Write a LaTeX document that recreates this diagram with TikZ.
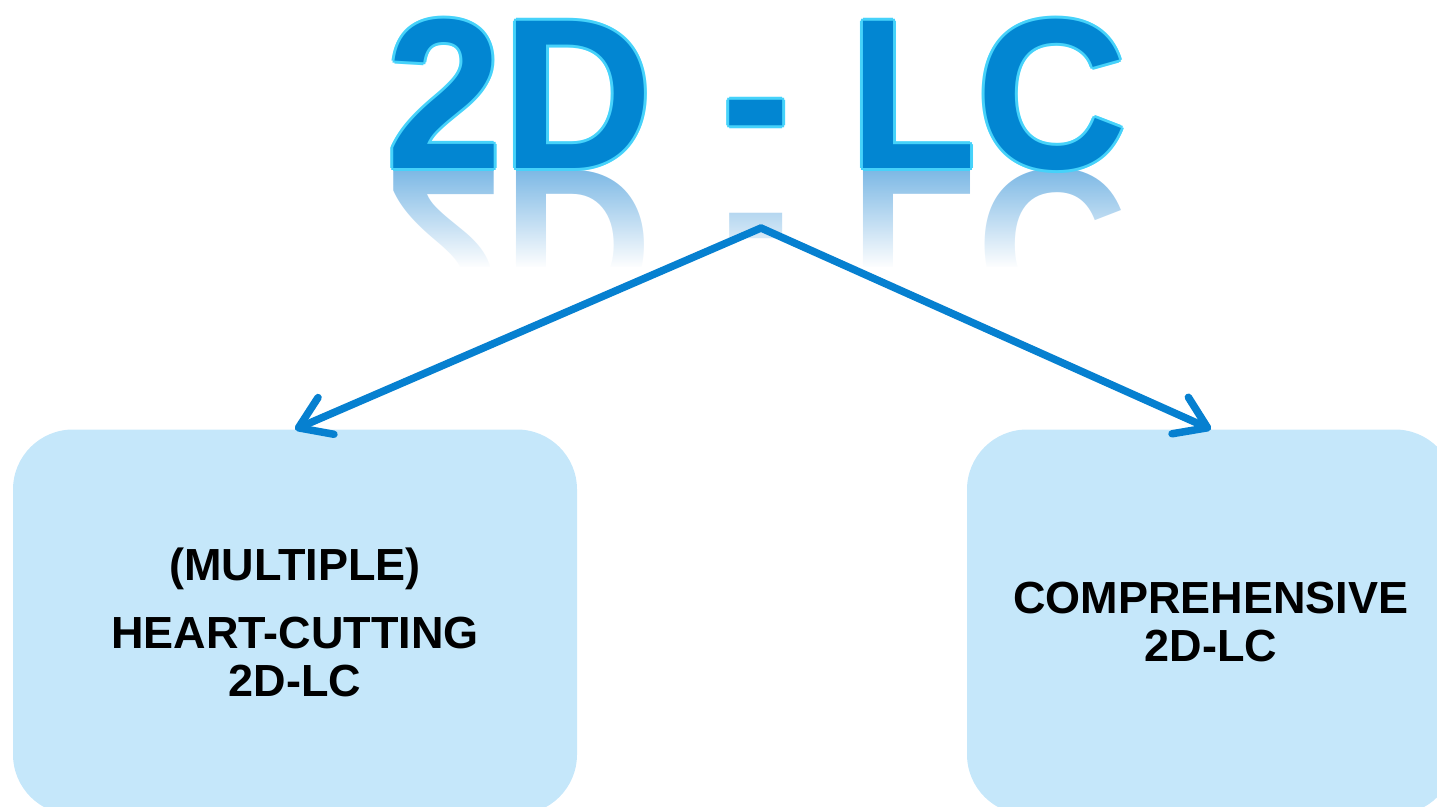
\documentclass[tikz,border=0pt]{standalone}
\usepackage{fontspec}
\setmainfont{Liberation Sans}
\usetikzlibrary{arrows.meta,fadings}

\definecolor{titleblue}{RGB}{2,134,210}
\definecolor{titleedge}{RGB}{70,210,250}
\definecolor{reflblue}{RGB}{120,182,228}
\definecolor{arrowblue}{RGB}{6,128,208}
\definecolor{boxblue}{RGB}{197,231,250}

\newcommand{\titlefont}{\fontsize{214}{214}\selectfont\bfseries}
\newcommand{\boxfont}{\fontsize{45}{48}\selectfont\bfseries}
\newcommand{\titletext}{2D\kern11pt\ - LC}

\tikzfading[name=reflfade, top color=transparent!100, bottom color=transparent!0]

\tikzset{
  titletype/.style={anchor=base, font=\titlefont, inner sep=0pt, xscale=0.975},
  lcbox/.style={fill=boxblue, rounded corners=60pt, minimum width=564pt,
    minimum height=385pt, align=center, font=\boxfont, inner sep=0pt},
  splitarrow/.style={draw=arrowblue, line width=7.5pt, line cap=round,
    -{Straight Barb[length=30pt,width=40pt,round]}}
}

\begin{document}
\begin{tikzpicture}[x=1pt,y=-1pt]
  \useasboundingbox (0,0) rectangle (1437,806);

  %mirror of the title, faded out below
  \node[titletype, yscale=-1, text=reflblue] (mirror) at (757,170) {\titletext};
  \fill[white, path fading=reflfade] (370,166) rectangle (1150,268);
  \fill[white] (370,267) rectangle (1150,340);

  %title with light edge
  \foreach \dx/\dy in {-3/0,3/0,0/-3,0/3,-2/-2,2/-2,-2/2,2/2}
    \node[titletype, text=titleedge] at (757+\dx,168+\dy) {\titletext};
  \node[titletype, text=titleblue] (title) at (757,168) {\titletext};

  %the two kinds
  \node[lcbox] (hcbox) at (295,622) {(MULTIPLE)\\[20pt] HEART-CUTTING\\ 2D-LC};
  \node[lcbox, minimum width=488pt] (combox) at (1211,622) {COMPREHENSIVE\\ 2D-LC};

  \coordinate (split) at (761,228);
  \draw[splitarrow] (split) -- (hcbox.north);
  \draw[splitarrow] (split) -- (combox.north);
\end{tikzpicture}
\end{document}
